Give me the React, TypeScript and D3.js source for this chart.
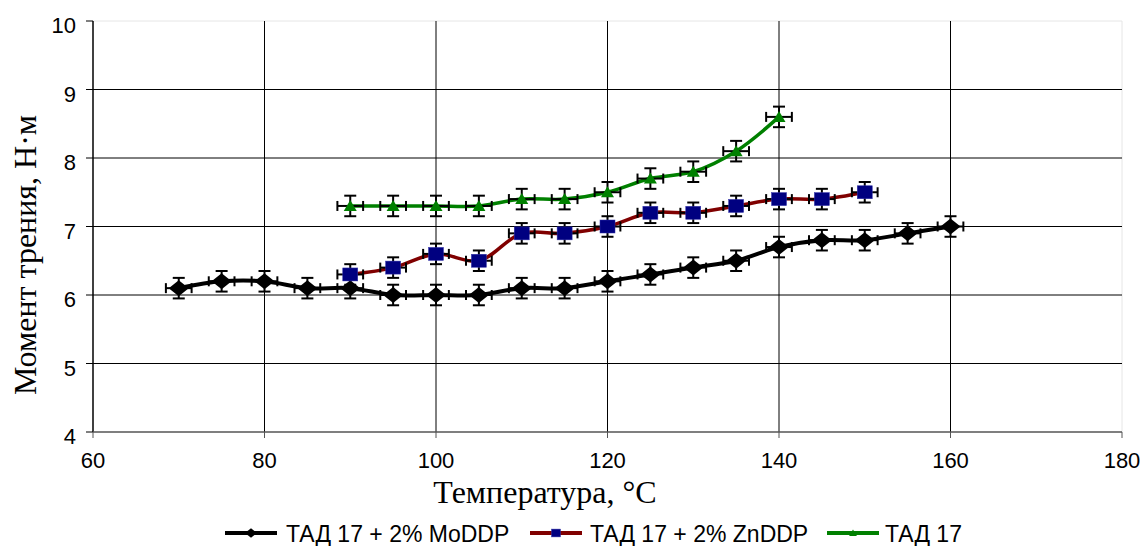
import React from 'react';
import * as d3 from 'd3';

// temperatures, °C
const tempsMo = [70, 75, 80, 85, 90, 95, 100, 105, 110, 115, 120, 125, 130, 135, 140, 145, 150, 155, 160];
const valuesMo = [6.1, 6.2, 6.2, 6.1, 6.1, 6.0, 6.0, 6.0, 6.1, 6.1, 6.2, 6.3, 6.4, 6.5, 6.7, 6.8, 6.8, 6.9, 7.0];
const tempsZn = [90, 95, 100, 105, 110, 115, 120, 125, 130, 135, 140, 145, 150];
const valuesZn = [6.3, 6.4, 6.6, 6.5, 6.9, 6.9, 7.0, 7.2, 7.2, 7.3, 7.4, 7.4, 7.5];
const tempsBase = [90, 95, 100, 105, 110, 115, 120, 125, 130, 135, 140];
const valuesBase = [7.3, 7.3, 7.3, 7.3, 7.4, 7.4, 7.5, 7.7, 7.8, 8.1, 8.6];

const xTicks = [60, 80, 100, 120, 140, 160, 180];
const yTicks = [4, 5, 6, 7, 8, 9, 10];
const errX = 1.5;
const errY = 0.15;

const seriesNames = ['ТАД 17 + 2% MoDDP', 'ТАД 17 + 2% ZnDDP', 'ТАД 17'];

const left = 93, right = 1122, top = 21, bottom = 432;

const x = d3.scaleLinear().domain([60, 180]).range([left, right]);
const y = d3.scaleLinear().domain([4, 10]).range([bottom, top]);

const line = d3.line<[number, number]>()
  .x(d => x(d[0]))
  .y(d => y(d[1]))
  .curve(d3.curveCatmullRom.alpha(0.5));

const series = [
  { name: seriesNames[0], temps: tempsMo, values: valuesMo, stroke: '#000000', fill: '#000000', marker: 'diamond', width: 4 },
  { name: seriesNames[1], temps: tempsZn, values: valuesZn, stroke: '#800000', fill: '#000080', marker: 'square', width: 3.5 },
  { name: seriesNames[2], temps: tempsBase, values: valuesBase, stroke: '#008000', fill: '#008000', marker: 'triangle', width: 3.5 },
];

function Marker({ kind, cx, cy, fill, s = 1 }: { kind: string; cx: number; cy: number; fill: string; s?: number }) {
  if (kind === 'diamond') {
    return <path d={`M${cx - 10 * s},${cy} L${cx},${cy - 8 * s} L${cx + 10 * s},${cy} L${cx},${cy + 8 * s} Z`} fill={fill} />;
  }
  if (kind === 'square') {
    return <rect x={cx - 7.5 * s} y={cy - 6.5 * s} width={15 * s} height={13 * s} fill={fill} stroke="#3333aa" strokeWidth={0.5} />;
  }
  return <path d={`M${cx - 6.5 * s},${cy + 5 * s} L${cx},${cy - 6 * s} L${cx + 6.5 * s},${cy + 5 * s} Z`} fill={fill} />;
}

function ErrorBars({ t, v }: { t: number; v: number }) {
  const cx = x(t), cy = y(v);
  const y1 = y(v + errY), y2 = y(v - errY);
  const x1 = x(t - errX), x2 = x(t + errX);
  return (
    <g stroke="#000" strokeWidth={2}>
      <line x1={cx} x2={cx} y1={y1} y2={y2} />
      <line x1={cx - 6} x2={cx + 6} y1={y1} y2={y1} />
      <line x1={cx - 6} x2={cx + 6} y1={y2} y2={y2} />
      <line x1={x1} x2={x2} y1={cy} y2={cy} />
      <line x1={x1} x2={x1} y1={cy - 5} y2={cy + 5} />
      <line x1={x2} x2={x2} y1={cy - 5} y2={cy + 5} />
    </g>
  );
}

export default function App() {
  const legendItems = [
    { lx: 225, tx: 286 },
    { lx: 530, tx: 590 },
    { lx: 827, tx: 885 },
  ];
  return (
    <svg width={1145} height={546} style={{ position: 'absolute', left: 0, top: 0, background: '#fff' }}>
      <rect x={0} y={0} width={1145} height={546} fill="#fff" />
      {/* plot frame */}
      <line x1={left} x2={right} y1={top} y2={top} stroke="#e6e6e6" strokeWidth={1} />
      <line x1={right} x2={right} y1={top} y2={bottom} stroke="#e6e6e6" strokeWidth={1} />
      {/* gridlines */}
      {yTicks.filter(t => t > 4 && t < 10).map(t => (
        <line key={'gy' + t} x1={left} x2={right} y1={y(t)} y2={y(t)} stroke="#000" strokeWidth={1} />
      ))}
      {xTicks.filter(t => t > 60 && t < 180).map(t => (
        <line key={'gx' + t} x1={x(t)} x2={x(t)} y1={top} y2={bottom} stroke="#000" strokeWidth={1} />
      ))}
      {/* axes */}
      <line x1={left} x2={left} y1={top} y2={bottom} stroke="#000" strokeWidth={1.5} />
      <line x1={left} x2={right} y1={bottom} y2={bottom} stroke="#555" strokeWidth={1.5} />
      {yTicks.map(t => (
        <g key={'ty' + t}>
          <line x1={left - 7} x2={left} y1={y(t)} y2={y(t)} stroke="#000" strokeWidth={1} />
          <text x={76} y={y(t) + 12} textAnchor="end" fontFamily="Liberation Sans, Arial" fontSize={22}>{t}</text>
        </g>
      ))}
      {xTicks.map(t => (
        <g key={'tx' + t}>
          <line x1={x(t)} x2={x(t)} y1={bottom} y2={bottom + 6} stroke="#555" strokeWidth={1} />
          <text x={x(t)} y={468} textAnchor="middle" fontFamily="Liberation Sans, Arial" fontSize={22}>{t}</text>
        </g>
      ))}
      {/* axis titles */}
      <text x={545} y={503} textAnchor="middle" fontFamily="Liberation Serif, Times New Roman" fontSize={32}>Температура, °С</text>
      <text transform={`translate(36,255) rotate(-90)`} textAnchor="middle" fontFamily="Liberation Serif, Times New Roman" fontSize={32}>Момент трения, Н·м</text>
      {/* series */}
      {series.map(s => {
        const pts: [number, number][] = s.temps.map((t, i) => [t, s.values[i]]);
        return (
          <g key={s.name}>
            <path d={line(pts) || ''} fill="none" stroke={s.stroke} strokeWidth={s.width} />
            {pts.map(p => <ErrorBars key={'e' + p[0]} t={p[0]} v={p[1]} />)}
            {pts.map(p => <Marker key={'m' + p[0]} kind={s.marker} cx={x(p[0])} cy={y(p[1])} fill={s.fill} />)}
          </g>
        );
      })}
      {/* legend */}
      {series.map((s, i) => {
        const it = legendItems[i];
        const cy = 533;
        return (
          <g key={'lg' + i}>
            <line x1={it.lx} x2={it.lx + 52} y1={cy} y2={cy} stroke={s.stroke} strokeWidth={4} />
            <Marker kind={s.marker} cx={it.lx + 26} cy={cy} fill={s.fill} s={0.6} />
            <text x={it.tx} y={542} fontFamily="Liberation Sans, Arial" fontSize={23}>{s.name}</text>
          </g>
        );
      })}
    </svg>
  );
}
